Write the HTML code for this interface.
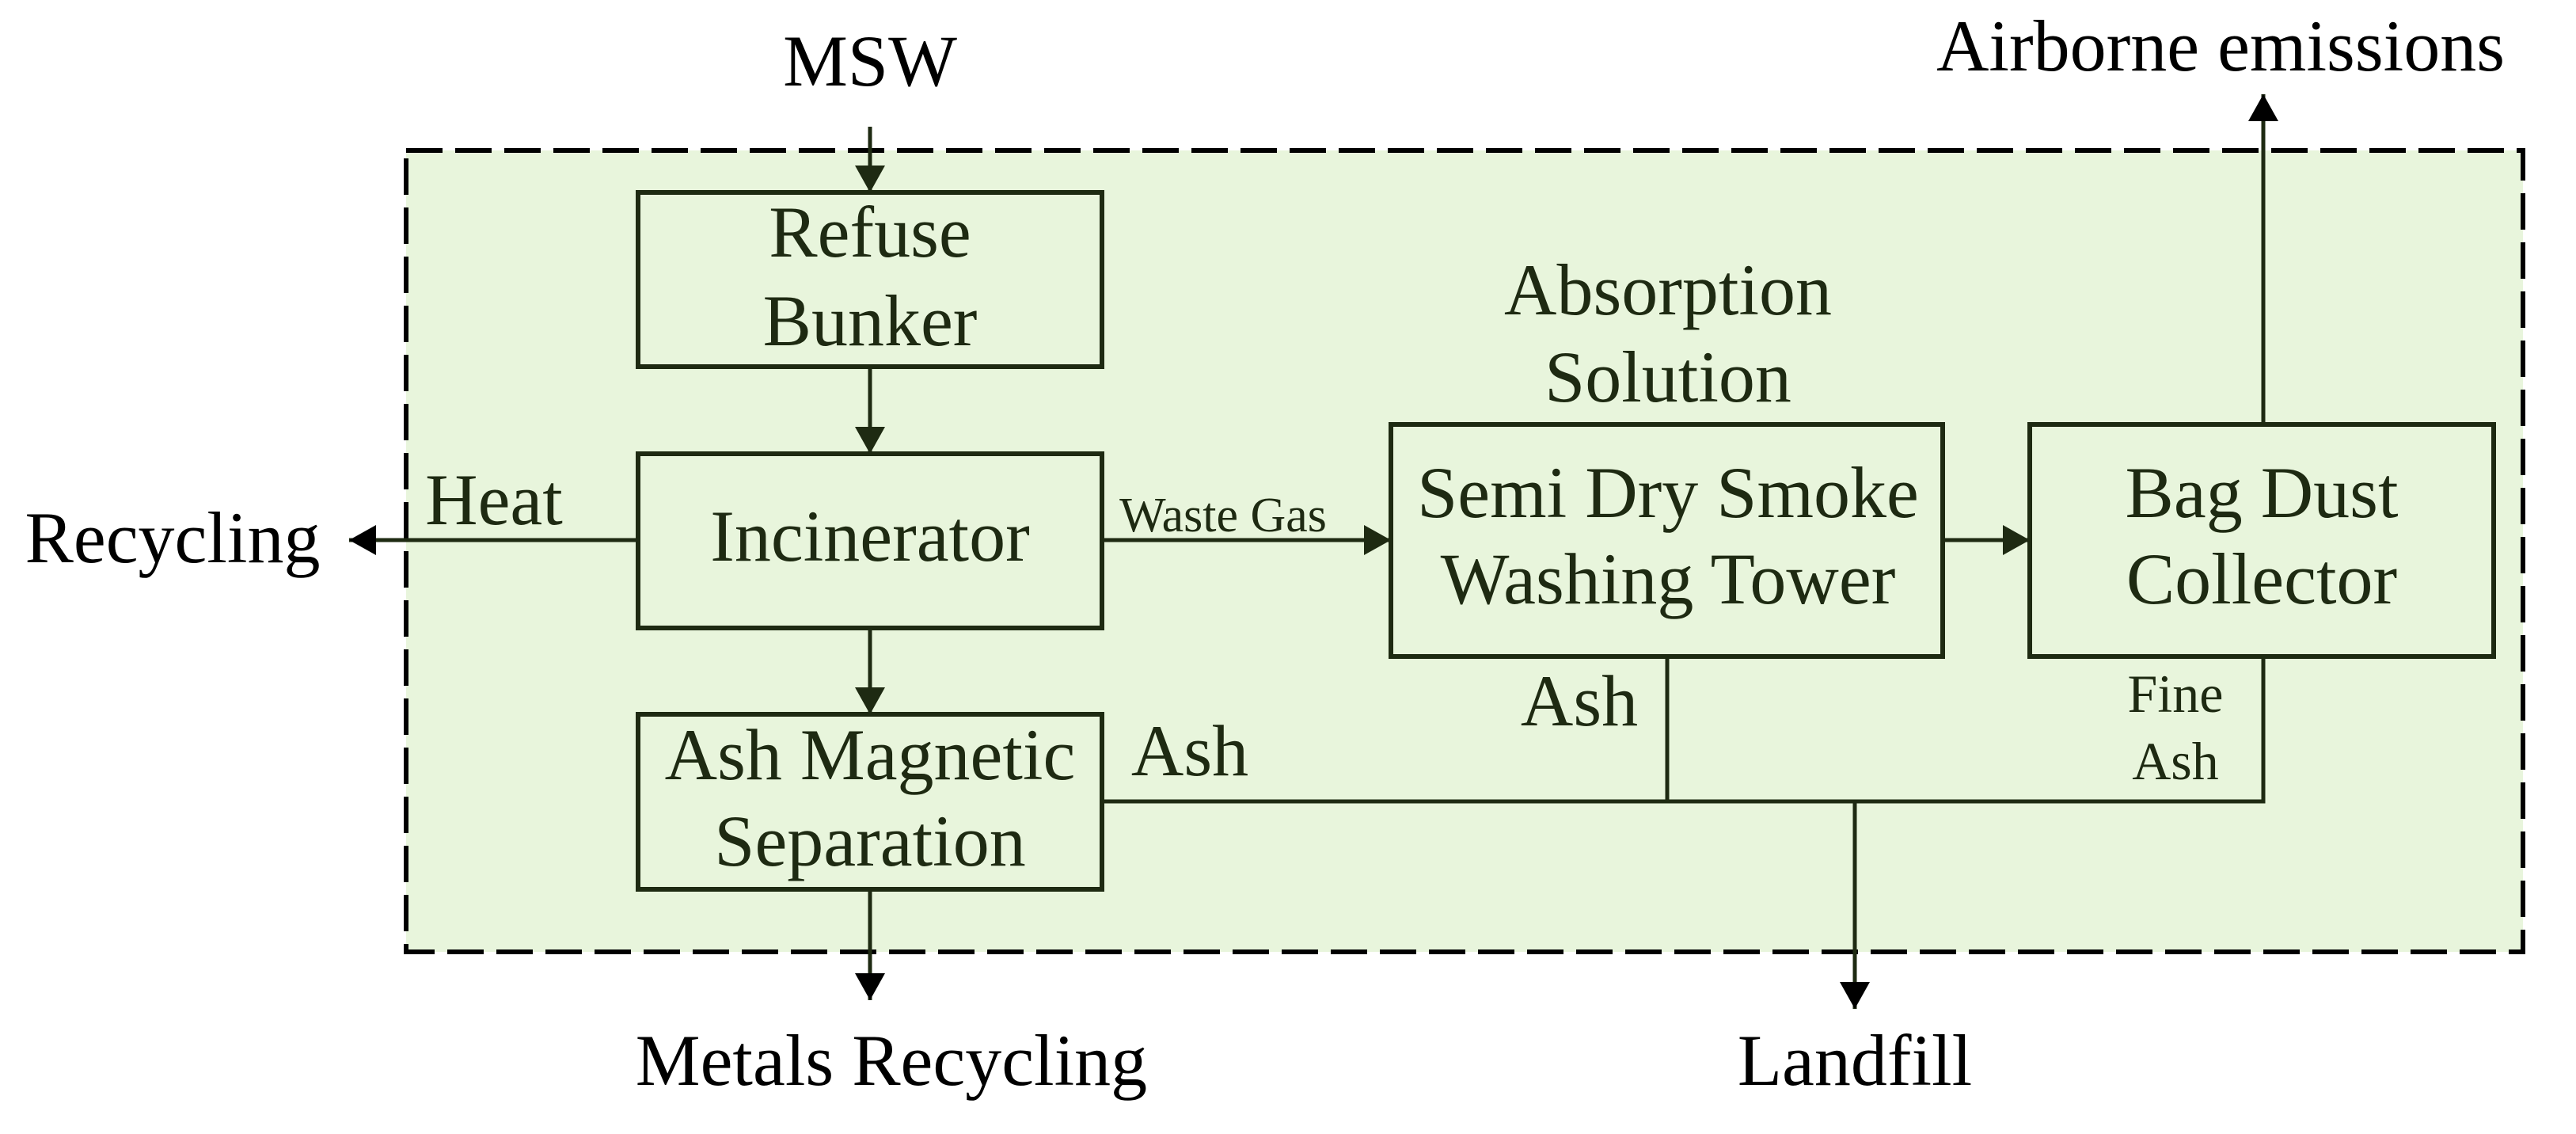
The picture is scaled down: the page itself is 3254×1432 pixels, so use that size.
<!DOCTYPE html>
<html><head><meta charset="utf-8"><style>
html,body{margin:0;padding:0;background:#fff;}
svg{display:block;}
text{font-family:"Liberation Serif",serif;}
</style></head><body>
<svg width="3254" height="1432" viewBox="0 0 3254 1432" xmlns="http://www.w3.org/2000/svg">
<defs>
<marker id="a" markerUnits="userSpaceOnUse" markerWidth="40" markerHeight="40" refX="34" refY="19" orient="auto">
<path d="M0,0 L34,19 L0,38 Z" fill="#1e2a12"/>
</marker>
<marker id="k" markerUnits="userSpaceOnUse" markerWidth="40" markerHeight="40" refX="34" refY="19" orient="auto">
<path d="M0,0 L34,19 L0,38 Z" fill="#000"/>
</marker>
</defs>
<rect x="513" y="190" width="2674" height="1012" fill="#e8f5dc" stroke="#000" stroke-width="6" stroke-dasharray="46,16"/>
<g fill="none" stroke="#1e2a12" stroke-width="6">
<rect x="806" y="243" width="586" height="220"/>
<rect x="806" y="573" width="586" height="220"/>
<rect x="806" y="902" width="586" height="221"/>
<rect x="1757" y="536" width="697" height="293"/>
<rect x="2564" y="536" width="586" height="293"/>
</g>
<g stroke="#1e2a12" stroke-width="5" fill="none">
<line x1="1099" y1="160" x2="1099" y2="243" marker-end="url(#a)"/>
<line x1="1099" y1="463" x2="1099" y2="573" marker-end="url(#a)"/>
<line x1="1099" y1="793" x2="1099" y2="902" marker-end="url(#a)"/>
<line x1="806" y1="682" x2="441" y2="682" marker-end="url(#k)"/>
<line x1="1392" y1="682" x2="1757" y2="682" marker-end="url(#a)"/>
<line x1="2454" y1="682" x2="2564" y2="682" marker-end="url(#a)"/>
<line x1="2859" y1="536" x2="2859" y2="119" marker-end="url(#k)"/>
<line x1="1099" y1="1123" x2="1099" y2="1263" marker-end="url(#k)"/>
<polyline points="1392,1012 2859,1012 2859,829"/>
<line x1="2106" y1="829" x2="2106" y2="1012"/>
<line x1="2343" y1="1012" x2="2343" y2="1274" marker-end="url(#k)"/>
</g>
<g font-size="92" fill="#000" text-anchor="middle">
<text x="1099" y="108">MSW</text>
<text x="2805" y="89">Airborne emissions</text>
<text x="218" y="710">Recycling</text>
<text x="1126" y="1370">Metals Recycling</text>
<text x="2343" y="1370">Landfill</text>
</g>
<g font-size="92" fill="#1e2a12" text-anchor="middle">
<text x="1099" y="324">Refuse</text>
<text x="1099" y="436">Bunker</text>
<text x="1099" y="708">Incinerator</text>
<text x="1099" y="984">Ash Magnetic</text>
<text x="1099" y="1093">Separation</text>
<text x="2107" y="397">Absorption</text>
<text x="2107" y="507">Solution</text>
<text x="2107" y="653">Semi Dry Smoke</text>
<text x="2107" y="762">Washing Tower</text>
<text x="2857" y="653">Bag Dust</text>
<text x="2857" y="762">Collector</text>
<text x="1995" y="916">Ash</text>
<text x="1503" y="979">Ash</text>
<text x="624" y="662">Heat</text>
</g>
<g fill="#1e2a12" text-anchor="middle">
<text x="1545" y="671" font-size="62">Waste Gas</text>
<text x="2748" y="899" font-size="68">Fine</text>
<text x="2748" y="984" font-size="68">Ash</text>
</g>
</svg>
</body></html>
